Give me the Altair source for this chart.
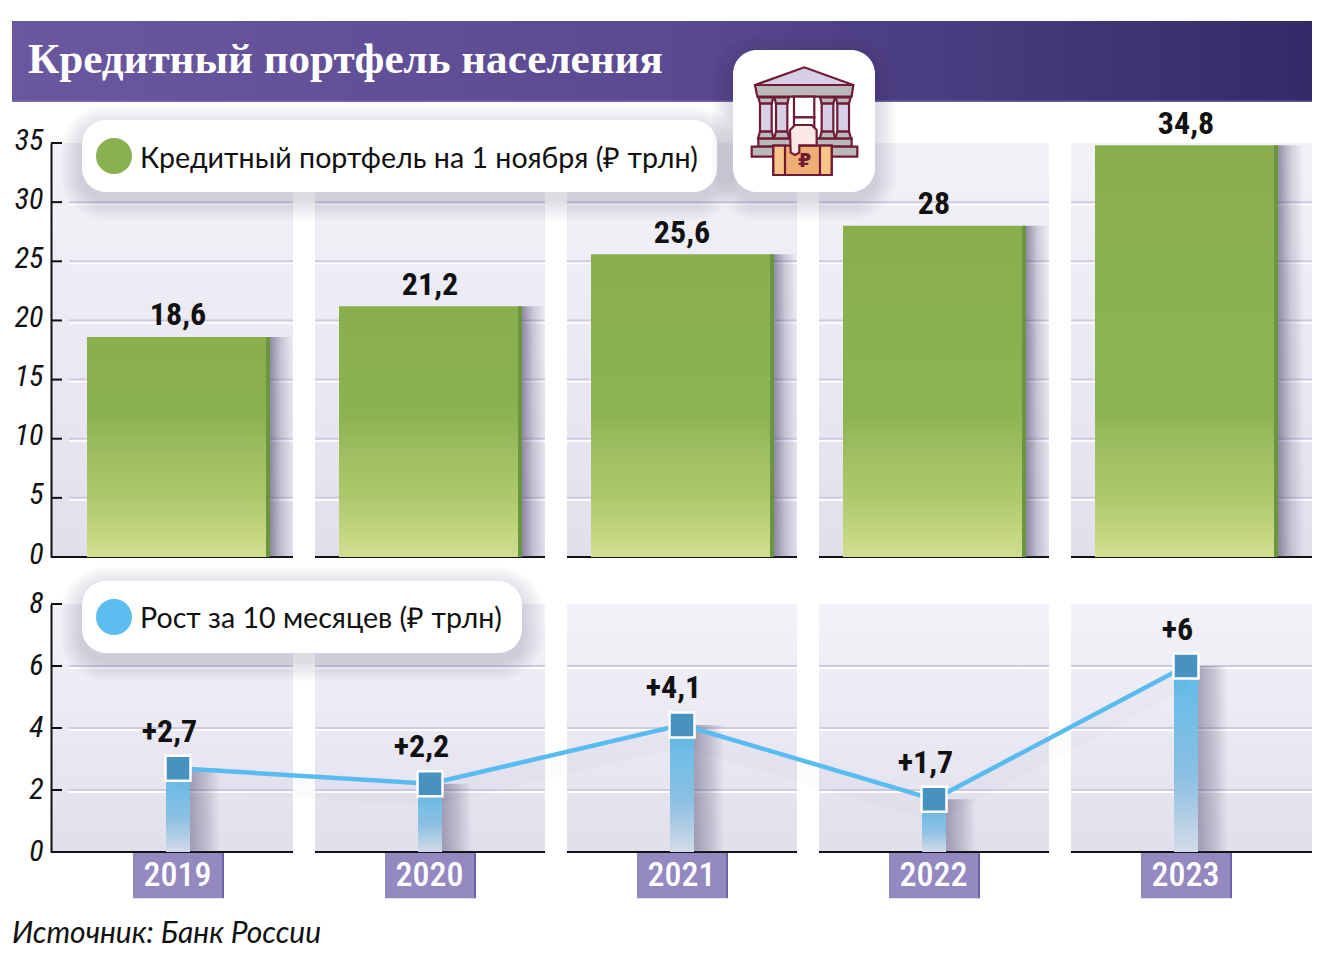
import altair as alt
import pandas as pd

# ---- data ----
years = [2019, 2020, 2021, 2022, 2023]
portfolio = [18.6, 21.2, 25.6, 28.0, 34.8]
portfolio_labels = ["18,6", "21,2", "25,6", "28", "34,8"]
growth = [2.7, 2.2, 4.1, 1.7, 6.0]
growth_labels = ["+2,7", "+2,2", "+4,1", "+1,7", "+6"]
top_ticks = [0, 5, 10, 15, 20, 25, 30, 35]
bottom_ticks = [0, 2, 4, 6, 8]
title_text = "Кредитный портфель населения"
legend_top = "Кредитный портфель на 1 ноября (₽ трлн)"
legend_bottom = "Рост за 10 месяцев (₽ трлн)"
source_text = "Источник: Банк России"

# ---- layout helpers ----
OX, OY = 51, 8          # plot origin on the page
STEP = 252.0
NARROW = "Roboto Condensed"
BODY = "Lato"
ONE = pd.DataFrame({"k": [0]})
xs = alt.Scale(domain=[2019 - 127 / STEP, 2023 + 126 / STEP], nice=False, zero=False)
ys_top = alt.Scale(domain=[0, 35], range=[557 - OY, 143 - OY], nice=False, zero=False)
ys_bot = alt.Scale(domain=[0, 8], range=[852 - OY, 604 - OY], nice=False, zero=False)


def grad(stops, horizontal=False):
    return alt.LinearGradient(
        gradient="linear",
        stops=[alt.GradientStop(color=c, offset=o) for o, c in stops],
        x1=0, y1=0, x2=1 if horizontal else 0, y2=0 if horizontal else 1,
    )


def box(x1, y1, x2, y2, fill, radius=0, opacity=1):
    return alt.Chart(ONE).mark_rect(fill=fill, cornerRadius=radius, opacity=opacity).encode(
        x=alt.value(x1 - OX), x2=alt.value(x2 - OX), y=alt.value(y1 - OY), y2=alt.value(y2 - OY))


def soft_card(x1, y1, x2, y2, radius):
    out = []
    for i in range(7, 0, -1):
        g = i * 3
        out.append(box(x1 - g, y1 - g + 7, x2 + g, y2 + g + 7, "#3a3358", radius + g, 0.022))
    out.append(box(x1, y1, x2, y2, "#ffffff", radius))
    return out


def label(x, y, text, size, font, color="#111111", align="left", weight="normal", style="normal"):
    return alt.Chart(ONE).mark_text(
        text=text, fontSize=size, font=font, color=color, align=align, baseline="middle",
        fontWeight=weight, fontStyle=style,
    ).encode(x=alt.value(x - OX), y=alt.value(y - OY))


def dot(x, y, r, color):
    return alt.Chart(ONE).mark_point(shape="circle", filled=True, fill=color, opacity=1, size=(2 * r) ** 2,
                                     strokeWidth=0).encode(x=alt.value(x - OX), y=alt.value(y - OY))


# ---- derived tables ----
pl = [-127, -115, -115, -115, -115]
pr = [115, 115, 115, 115, 126]
panels = pd.DataFrame({
    "x1": [y + l / STEP for y, l in zip(years, pl)],
    "x2": [y + r / STEP for y, r in zip(years, pr)],
})
gl = [-109, -115, -115, -115, -115]


def grid_table(ticks):
    rows = []
    for y, l, r in zip(years, gl, pr):
        for t in ticks:
            rows.append({"x1": y + l / STEP, "x2": y + r / STEP, "t": t})
    return pd.DataFrame(rows)


def panel_layers(scale, top_value, ticks):
    p = panels.assign(v=top_value, z=0)
    g = grid_table([t for t in ticks if 0 < t < top_value])
    bg = alt.Chart(p).mark_rect(fill=grad([(0, "#f3f2f8"), (1, "#e2dfec")])).encode(
        x=alt.X("x1:Q", scale=xs, axis=None), x2="x2:Q",
        y=alt.Y("v:Q", scale=scale, axis=None), y2="z:Q")
    white = alt.Chart(g).mark_rule(color="#ffffff", strokeWidth=2, yOffset=2).encode(
        x=alt.X("x1:Q", scale=xs, axis=None), x2="x2:Q", y=alt.Y("t:Q", scale=scale, axis=None))
    lilac = alt.Chart(g).mark_rule(color="#cfcae1", strokeWidth=2).encode(
        x=alt.X("x1:Q", scale=xs, axis=None), x2="x2:Q", y=alt.Y("t:Q", scale=scale, axis=None))
    base = alt.Chart(p).mark_rule(color="#111111", strokeWidth=2).encode(
        x=alt.X("x1:Q", scale=xs, axis=None), x2="x2:Q", y=alt.Y("z:Q", scale=scale, axis=None))
    return [bg, white, lilac, base]


def axis_layers(scale, ticks, top_value, offset):
    t = pd.DataFrame({"t": ticks})
    tk = alt.Chart(t[(t.t > 0)]).mark_rule(color="#111111", strokeWidth=2).encode(
        x=alt.value(0), x2=alt.value(11), y=alt.Y("t:Q", scale=scale, axis=None))
    ax = alt.Chart(t).mark_point(opacity=0).encode(
        y=alt.Y("t:Q", scale=scale, axis=alt.Axis(
            orient="left", values=ticks, format="d", title=None, tickSize=0, domain=True, grid=False,
            domainColor="#111111", domainWidth=2, labelFont=NARROW, labelFontStyle="italic",
            labelFontSize=30, labelColor="#111111", labelPadding=8, labelOffset=offset, zindex=1)))
    return [tk, ax]


# ---- top section ----
top = pd.DataFrame({"year": years, "v": portfolio, "lab": portfolio_labels, "z": 0})
top = top.assign(
    a=top.year - 91 / STEP, b=top.year + 92 / STEP, e=top.year + 88 / STEP,
    s=top.year + 115 / STEP, fade=12.0)
top.loc[top.year == 2023, "s"] = 2023 + 118 / STEP


def top_rect(x1, x2, fill, y="v"):
    return alt.Chart(top).mark_rect(fill=fill).encode(
        x=alt.X(f"{x1}:Q", scale=xs, axis=None), x2=f"{x2}:Q",
        y=alt.Y(f"{y}:Q", scale=ys_top, axis=None), y2="z:Q")


top_bars = [
    top_rect("b", "s", grad([(0, "rgba(70,60,100,0.55)"), (0.5, "rgba(70,60,100,0.2)"), (1, "rgba(70,60,100,0)")], True)),
    top_rect("a", "b", grad([(0, "#88ae4d"), (1, "#90b757")])),
    top_rect("a", "b", grad([(0, "rgba(209,223,142,0)"), (0.5, "rgba(190,212,120,0.55)"), (1, "#d2df8f")]), "fade"),
    top_rect("e", "b", "#6c9540"),
    alt.Chart(top).mark_text(font=NARROW, fontSize=32, fontWeight="bold", color="#111111", dy=-21.5).encode(
        x=alt.X("year:Q", scale=xs, axis=None), y=alt.Y("v:Q", scale=ys_top, axis=None), text="lab:N"),
]

# ---- bottom section ----
bot = pd.DataFrame({"year": years, "v": growth, "lab": growth_labels, "z": 0})
bot = bot.assign(a=bot.year - 12 / STEP, b=bot.year + 12 / STEP, s=bot.year + 42 / STEP)


def bot_rect(x1, x2, fill):
    return alt.Chart(bot).mark_rect(fill=fill).encode(
        x=alt.X(f"{x1}:Q", scale=xs, axis=None), x2=f"{x2}:Q",
        y=alt.Y("v:Q", scale=ys_bot, axis=None), y2="z:Q")


bot_x = alt.X("year:Q", scale=xs, axis=None)
bot_y = alt.Y("v:Q", scale=ys_bot, axis=None)
bot_marks = [
    bot_rect("b", "s", grad([(0, "rgba(70,60,100,0.42)"), (0.5, "rgba(70,60,100,0.24)"), (1, "rgba(70,60,100,0)")], True)),
    bot_rect("a", "b", grad([(0, "#5fbbea"), (0.6, "#8cc0e2"), (1, "#d3dbe8")])),
    alt.Chart(bot).mark_line(color="#3a3358", opacity=0.02, strokeWidth=20, yOffset=12).encode(x=bot_x, y=bot_y),
    alt.Chart(bot).mark_line(color="#59bcf0", strokeWidth=4.5).encode(x=bot_x, y=bot_y),
    alt.Chart(bot).mark_point(shape="square", filled=True, fill="#4792bf", stroke="#ffffff", strokeWidth=2.5,
                              opacity=1, size=625).encode(x=bot_x, y=bot_y),
    alt.Chart(bot).mark_text(font=NARROW, fontSize=32, fontWeight="bold", color="#111111", dy=-36.5, dx=-8.5).encode(
        x=bot_x, y=bot_y, text="lab:N"),
]

# ---- year tags ----
tags = pd.DataFrame({"year": years, "z": 0})
tags = tags.assign(a=tags.year - 45 / STEP, b=tags.year + 44 / STEP, c=tags.year + 46 / STEP,
                   t=tags.z - 0.03, u=tags.z - 1.49)
tag_marks = [
    alt.Chart(tags).mark_rect(fill="#9388bf").encode(
        x=alt.X("a:Q", scale=xs, axis=None), x2="b:Q", y=alt.Y("t:Q", scale=ys_bot, axis=None), y2="u:Q"),
    alt.Chart(tags).mark_rect(fill="#6b62ab").encode(
        x=alt.X("b:Q", scale=xs, axis=None), x2="c:Q", y=alt.Y("t:Q", scale=ys_bot, axis=None), y2="u:Q"),
    alt.Chart(tags).mark_text(font=NARROW, fontSize=34, fontWeight=500, color="#ffffff", dy=24, dx=-0.5).encode(
        x=alt.X("year:Q", scale=xs, axis=None), y=alt.Y("z:Q", scale=ys_bot, axis=None), text="year:N"),
]

# ---- icon ----
ICX, ICY, ICR = 804.5, 121.5, 54.5
DK = "#701a36"


def zp(zx, zy):
    return ((700 + zx / 3 - ICX) / ICR, (30 + zy / 3 - ICY) / ICR)


def poly(points, fill, sw=2.2):
    d = "M" + "L".join(f"{a:.3f},{b:.3f}" for a, b in (zp(*p) for p in points)) + "Z"
    return alt.Chart(ONE).mark_point(shape=d, size=(2 * ICR) ** 2, filled=True, fill=fill, stroke=DK,
                                     strokeWidth=sw, opacity=1).encode(
        x=alt.value(ICX - OX), y=alt.value(ICY - OY))


def zr(a, b, c, d, fill, sw=2.2):
    return poly([(a, b), (c, b), (c, d), (a, d)], fill, sw)


GREY, PALE = "#b9b9bb", "#d6cfe6"
icon = [
    poly([(165, 165), (313, 112), (460, 165)], PALE),
    poly([(165, 165), (460, 165), (455, 200), (172, 200)], GREY),
    zr(282, 200, 343, 262, "#ffffff"),
    zr(282, 262, 343, 295, "#ffffff"),
    zr(175, 325, 455, 350, GREY),
]
for a, b in [(180, 215), (228, 262), (365, 400), (412, 447)]:
    icon += [
        zr(a, 220, b, 305, PALE),
        poly([(a - 5, 202), (b + 5, 202), (b, 220), (a, 220)], GREY),
        poly([(a, 305), (b, 305), (b + 6, 325), (a - 6, 325)], GREY),
    ]
icon += [
    zr(155, 350, 472, 380, GREY),
    zr(220, 347, 395, 435, "#efae76"),
    zr(220, 347, 255, 435, "#f6c587"),
    zr(360, 347, 395, 435, "#f6c587"),
    poly([(270, 300), (285, 285), (335, 285), (350, 300), (350, 346), (298, 346), (298, 368), (285, 375),
          (272, 368)], "#f9e9e2"),
    alt.Chart(ONE).mark_text(text="₽", font="DejaVu Sans", fontSize=19, fontWeight="bold", color=DK,
                             baseline="middle").encode(x=alt.value(804.5 - OX), y=alt.value(161 - OY)),
]

# ---- assemble ----
banner = box(12, 21, 1312, 102, grad([(0, "#6a589f"), (0.5, "#5a4a92"), (1, "#342a68")], True))
banner_line = box(12, 100.5, 1312, 102, "#8a7bb8", opacity=0.6)
layers = (
    [banner, banner_line,
     label(28, 59.5, title_text, 43.1, "Liberation Serif", "#ffffff", weight="bold")]
    + panel_layers(ys_top, 35, top_ticks)
    + panel_layers(ys_bot, 8, bottom_ticks)
    + axis_layers(ys_top, top_ticks, 35, -3)
    + axis_layers(ys_bot, bottom_ticks, 8, -1)
    + top_bars + bot_marks + tag_marks
    + soft_card(82, 120, 717, 192, 24)
    + [dot(114, 156, 18, "#88b04f"), label(140, 159, legend_top, 28.6, BODY)]
    + soft_card(82, 581, 522, 653, 24)
    + [dot(114, 617, 18, "#5bbcf0"), label(140, 619, legend_bottom, 28.6, BODY)]
    + soft_card(733, 50, 875, 192, 24)
    + icon
    + [label(12, 934, source_text, 30, BODY, style="italic")]
)

chart = alt.layer(*layers).resolve_scale(y="independent").resolve_axis(y="independent").properties(
    width=1261, height=950, padding={"left": 43, "top": 0, "right": 0, "bottom": 0},
    autosize=alt.AutoSizeParams(type="none"), background="#ffffff",
).configure_view(stroke=None)

chart.save("out.html", embed_options={"renderer": "svg", "actions": False})
